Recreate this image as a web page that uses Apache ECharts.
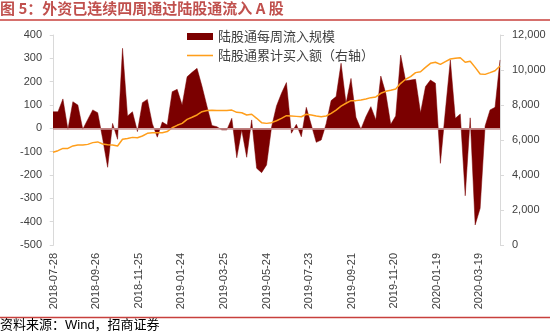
<!DOCTYPE html>
<html><head><meta charset="utf-8">
<script src="https://cdn.jsdelivr.net/npm/echarts@6/dist/echarts.min.js"></script>
<style>html,body{margin:0;padding:0;background:#fff}#c{width:550px;height:333px}</style>
</head><body><div id="c"></div>
<script>
const dates = [
 '2018-07-27','2018-08-03','2018-08-10','2018-08-17','2018-08-24','2018-08-31','2018-09-07','2018-09-14','2018-09-21','2018-09-28',
 '2018-10-05','2018-10-12','2018-10-19','2018-10-26','2018-11-02','2018-11-09','2018-11-16','2018-11-23','2018-11-30','2018-12-07',
 '2018-12-14','2018-12-21','2018-12-28',
 '2019-01-04','2019-01-11','2019-01-18','2019-01-25','2019-02-01','2019-02-08','2019-02-15','2019-02-22','2019-03-01','2019-03-08',
 '2019-03-15','2019-03-22','2019-03-29','2019-04-05','2019-04-12','2019-04-19','2019-04-26','2019-05-03','2019-05-10','2019-05-17',
 '2019-05-24','2019-05-31','2019-06-07','2019-06-14','2019-06-21','2019-06-28','2019-07-05','2019-07-12','2019-07-19','2019-07-26',
 '2019-08-02','2019-08-09','2019-08-16','2019-08-23','2019-08-30','2019-09-06','2019-09-13','2019-09-20','2019-09-27','2019-10-04',
 '2019-10-11','2019-10-18','2019-10-25','2019-11-01','2019-11-08','2019-11-15','2019-11-22','2019-11-29','2019-12-06','2019-12-13',
 '2019-12-20','2019-12-27',
 '2020-01-03','2020-01-10','2020-01-17','2020-01-24','2020-01-31','2020-02-07','2020-02-14','2020-02-21','2020-02-28','2020-03-06',
 '2020-03-13','2020-03-20','2020-03-27','2020-04-03','2020-04-10','2020-04-17'
];
const weeklyFlow = [
 71, 71, 126, -5, 114, 100, -4, 38, 79, 67, -45, -167, 21, -47, 343, 53, 71, -14, 110, 124, 20, -38, 27,
 14, 157, 167, 100, 221, 240, 257, 180, 95, 12, 7, -7, -7, 43, -126, -7, -124, 36, -171, -190, -157, 5,
 96, 150, 196, -21, 17, -36, 90, 15, -60, -50, 20, 119, 136, 279, 107, 214, 47, -4, 50, 93, 36, 224, 150,
 17, 53, 314, 204, 207, 210, 67, 179, 207, 193, -150, 75, 293, 43, 61, -289, 45, -414, -343, 10, 79, 90, 293
];
const cumulative = [
 5300, 5390, 5520, 5520, 5660, 5710, 5710, 5750, 5850, 5890, 5770, 5730, 5710, 5660, 6040, 6080, 6150, 6130, 6230, 6380, 6420, 6420, 6420,
 6480, 6700, 6840, 6950, 7180, 7300, 7430, 7620, 7680, 7700, 7680, 7680, 7680, 7710, 7580, 7560, 7430, 7470, 7240, 6990, 6950, 6990,
 7100, 7240, 7390, 7370, 7350, 7330, 7470, 7430, 7370, 7330, 7370, 7520, 7710, 7940, 8100, 8250, 8250, 8290, 8340, 8420, 8460, 8670, 8780,
 8840, 8910, 9240, 9470, 9620, 9850, 9900, 10150, 10380, 10440, 10320, 10480, 10630, 10670, 10700, 10440, 10500, 10150, 9770, 9750, 9850, 9960, 10230
];
const xTickLabels = ['2018-07-28','2018-09-26','2018-11-25','2019-01-24','2019-03-25','2019-05-24','2019-07-23','2019-09-21','2019-11-20','2020-01-19','2020-03-19'];
const leftAxis = {min: -500, max: 400, step: 100};
const rightAxis = {min: 0, max: 12000, step: 2000};
const seriesNames = ['陆股通每周流入规模', '陆股通累计买入额（右轴）'];

const DAY = 86400000;
const base = Date.parse(xTickLabels[0] + 'T00:00:00Z');
const dayOf = s => Math.round((Date.parse(s + 'T00:00:00Z') - base) / DAY);
const fmtDay = v => new Date(base + Math.round(v) * DAY).toISOString().slice(0, 10);
const xs = dates.map(dayOf);
const fontF = "'Liberation Sans','Noto Sans CJK SC',sans-serif";
const cjkF = "'Noto Sans CJK SC',sans-serif";

const chart = echarts.init(document.getElementById('c'), null, {renderer: 'canvas'});
chart.setOption({
  animation: false,
  backgroundColor: '#fff',
  textStyle: {fontFamily: fontF},
  title: {
    text: '图 5：外资已连续四周通过陆股通流入 A 股',
    left: 0, top: 1, padding: 0,
    textStyle: {fontSize: 15, fontWeight: 'bold', color: '#c0504d', fontFamily: cjkF}
  },
  graphic: [
    {type: 'line', shape: {x1: 0, y1: 20, x2: 550, y2: 20}, style: {stroke: '#c8403c', lineWidth: 1.5}, silent: true},
    {type: 'line', shape: {x1: 0, y1: 317.5, x2: 550, y2: 317.5}, style: {stroke: '#c8403c', lineWidth: 1.5}, silent: true},
    {type: 'text', left: 0, top: 319, style: {text: '资料来源：Wind，招商证券', fontSize: 13, fill: '#000', fontFamily: fontF}, silent: true}
  ],
  legend: {
    orient: 'vertical', left: 187, top: 30, padding: 0,
    itemWidth: 26, itemHeight: 7, itemGap: 6,
    textStyle: {fontSize: 13, color: '#404040', fontFamily: cjkF},
    data: [
      {name: seriesNames[0], icon: 'rect'},
      {name: seriesNames[1], icon: 'path://M0,0H100V6H0Z'}
    ]
  },
  grid: {left: 53, right: 50, top: 35, bottom: 88, containLabel: false},
  xAxis: {
    type: 'value', min: xs[0], max: xs[xs.length - 1],
    axisLine: {show: false}, axisTick: {show: false}, splitLine: {show: false},
    axisLabel: {
      customValues: xTickLabels.map(dayOf),
      rotate: 90, margin: 8, fontSize: 11, color: '#404040',
      formatter: v => fmtDay(v)
    }
  },
  yAxis: [
    {
      type: 'value', min: leftAxis.min, max: leftAxis.max, interval: leftAxis.step,
      axisLine: {show: true, lineStyle: {color: '#d9d9d9'}},
      axisTick: {show: true, length: 4, lineStyle: {color: '#d9d9d9'}},
      splitLine: {show: false},
      axisLabel: {fontSize: 11, color: '#404040', margin: 11}
    },
    {
      type: 'value', min: rightAxis.min, max: rightAxis.max, interval: rightAxis.step, position: 'right',
      axisLine: {show: true, lineStyle: {color: '#d9d9d9'}},
      axisTick: {show: true, length: 4, lineStyle: {color: '#d9d9d9'}},
      splitLine: {show: false},
      axisLabel: {fontSize: 11, color: '#404040', margin: 12,
        formatter: v => String(v).replace(/\B(?=(\d{3})+(?!\d))/g, ',')}
    }
  ],
  series: [
    {
      name: seriesNames[0], type: 'line', yAxisIndex: 0,
      data: xs.map((x, i) => [x, weeklyFlow[i]]),
      symbol: 'none', showSymbol: false,
      lineStyle: {width: 0.5, color: '#7b0000'},
      itemStyle: {color: '#7b0000'},
      areaStyle: {color: '#7b0000', opacity: 1},
      markLine: {
        silent: true, symbol: 'none', label: {show: false},
        lineStyle: {color: '#c99494', width: 1.5, type: 'solid'},
        data: [{yAxis: 0}]
      },
      z: 2
    },
    {
      name: seriesNames[1], type: 'line', yAxisIndex: 1,
      data: xs.map((x, i) => [x, cumulative[i]]),
      symbol: 'none', showSymbol: false,
      lineStyle: {width: 1.5, color: '#ff9e1b'},
      itemStyle: {color: '#ff9e1b'},
      z: 3
    }
  ]
});
</script></body></html>
